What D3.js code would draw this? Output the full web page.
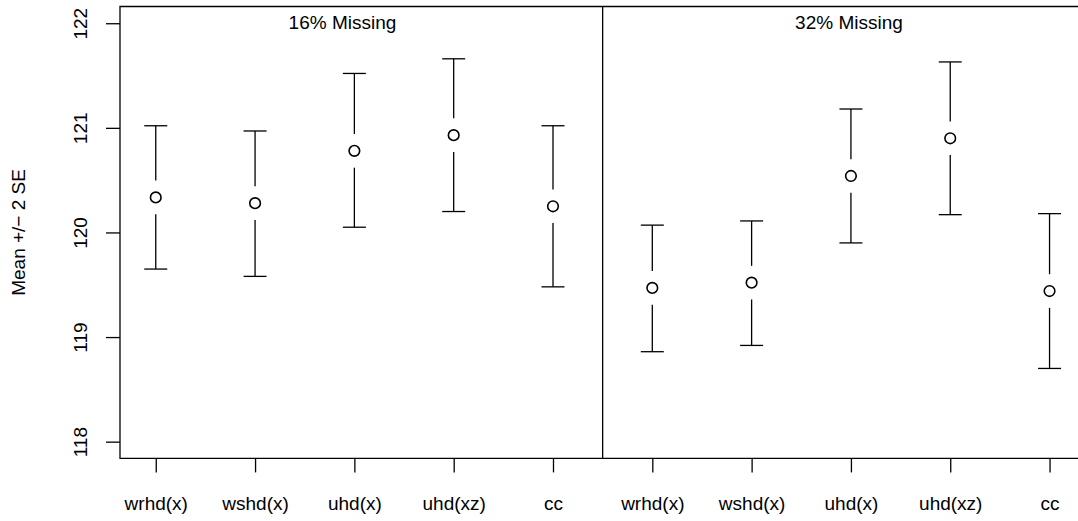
<!DOCTYPE html>
<html>
<head>
<meta charset="utf-8">
<script src="https://cdn.jsdelivr.net/npm/d3@7"></script>
<style>
  html, body { margin: 0; padding: 0; background: #fff; }
  svg { display: block; }
  text { font-family: "Liberation Sans", Arial, sans-serif; fill: #000; }
</style>
</head>
<body>
<svg id="chart" width="1078" height="521"></svg>
<script>
// Methods compared within each missing-data scenario
const methods = ["wrhd(x)", "wshd(x)", "uhd(x)", "uhd(xz)", "cc"];
const panelTitles = ["16% Missing", "32% Missing"];

// Estimated means and mean +/- 2 SE bounds, 16% missing
const mean16  = [120.335, 120.28, 120.78, 120.93, 120.25];
const upper16 = [121.02, 120.97, 121.52, 121.66, 121.02];
const lower16 = [119.65, 119.58, 120.05, 120.20, 119.48];

// Estimated means and mean +/- 2 SE bounds, 32% missing
const mean32  = [119.47, 119.52, 120.54, 120.90, 119.44];
const upper32 = [120.07, 120.11, 121.18, 121.63, 120.18];
const lower32 = [118.86, 118.92, 119.90, 120.17, 118.70];

const yTicks = [118, 119, 120, 121, 122];
const yLabel = "Mean +/\u2212 2 SE";

const svg = d3.select("#chart");

// Plot region (right side runs past the canvas edge)
const plotL = 120, plotR = 1085.3, plotT = 6.5, plotB = 458.4;

const x = d3.scaleLinear().domain([0.64, 10.36]).range([plotL, plotR]);
const y = d3.scaleLinear().domain([117.84, 122.16]).range([plotB, plotT]);

// Flatten both panels into one positioned list
const rows = [];
[[mean16, upper16, lower16], [mean32, upper32, lower32]].forEach(([m, u, l], p) => {
  methods.forEach((name, i) => {
    rows.push({ pos: p * methods.length + i + 1, label: name, mean: m[i], hi: u[i], lo: l[i] });
  });
});

const stroke = "#000";
const lw = 1.3;
const fontSize = 19;

// Frame: top, left and bottom edges plus the panel divider
const g = svg.append("g");
g.append("path")
  .attr("d", `M${plotR},${plotT}H${plotL}V${plotB}H${plotR}`)
  .attr("fill", "none").attr("stroke", stroke).attr("stroke-width", lw);
g.append("line")
  .attr("x1", x(5.5)).attr("x2", x(5.5))
  .attr("y1", plotT).attr("y2", plotB)
  .attr("stroke", stroke).attr("stroke-width", lw);

// Y axis
const yAxis = d3.axisLeft(y).tickValues(yTicks).tickSize(14).tickFormat(d3.format("d"));
const ya = svg.append("g").attr("transform", `translate(${plotL},0)`).call(yAxis);
ya.select(".domain").remove();
ya.selectAll(".tick line").attr("stroke", stroke).attr("stroke-width", lw);
ya.selectAll(".tick text")
  .attr("font-size", fontSize)
  .attr("x", 0).attr("y", 0).attr("dy", 0)
  .attr("text-anchor", "middle")
  .attr("transform", "translate(-33.3,0) rotate(-90)");

// X axis
const xAxis = d3.axisBottom(x).tickValues(rows.map(d => d.pos)).tickSize(14)
  .tickFormat(d => rows.find(r => r.pos === d).label);
const xa = svg.append("g").attr("transform", `translate(0,${plotB})`).call(xAxis);
xa.select(".domain").remove();
xa.selectAll(".tick line").attr("stroke", stroke).attr("stroke-width", lw);
xa.selectAll(".tick text")
  .attr("font-size", fontSize)
  .attr("y", 52).attr("dy", 0);

// Y axis title
svg.append("text")
  .attr("transform", `translate(24.5,${(plotT + plotB) / 2}) rotate(-90)`)
  .attr("text-anchor", "middle")
  .attr("font-size", fontSize)
  .text(yLabel);

// Panel titles
const titlePos = [2.88, 7.98];
svg.selectAll("text.ptitle").data(panelTitles).join("text")
  .attr("class", "ptitle")
  .attr("x", (d, i) => x(titlePos[i]))
  .attr("y", 29.3)
  .attr("text-anchor", "middle")
  .attr("font-size", fontSize)
  .text(d => d);

// Error bars with a gap around each mean marker
const gap = 16.8, capHalf = 11.5, r = 5.3;
const bars = svg.append("g").selectAll("g").data(rows).join("g");
bars.append("line")
  .attr("x1", d => x(d.pos)).attr("x2", d => x(d.pos))
  .attr("y1", d => y(d.hi)).attr("y2", d => y(d.mean) - gap)
  .attr("stroke", stroke).attr("stroke-width", lw);
bars.append("line")
  .attr("x1", d => x(d.pos)).attr("x2", d => x(d.pos))
  .attr("y1", d => y(d.mean) + gap).attr("y2", d => y(d.lo))
  .attr("stroke", stroke).attr("stroke-width", lw);
bars.append("line")
  .attr("x1", d => x(d.pos) - capHalf).attr("x2", d => x(d.pos) + capHalf)
  .attr("y1", d => y(d.hi)).attr("y2", d => y(d.hi))
  .attr("stroke", stroke).attr("stroke-width", lw);
bars.append("line")
  .attr("x1", d => x(d.pos) - capHalf).attr("x2", d => x(d.pos) + capHalf)
  .attr("y1", d => y(d.lo)).attr("y2", d => y(d.lo))
  .attr("stroke", stroke).attr("stroke-width", lw);
bars.append("circle")
  .attr("cx", d => x(d.pos)).attr("cy", d => y(d.mean)).attr("r", r)
  .attr("fill", "none").attr("stroke", stroke).attr("stroke-width", 1.6);
</script>
</body>
</html>
